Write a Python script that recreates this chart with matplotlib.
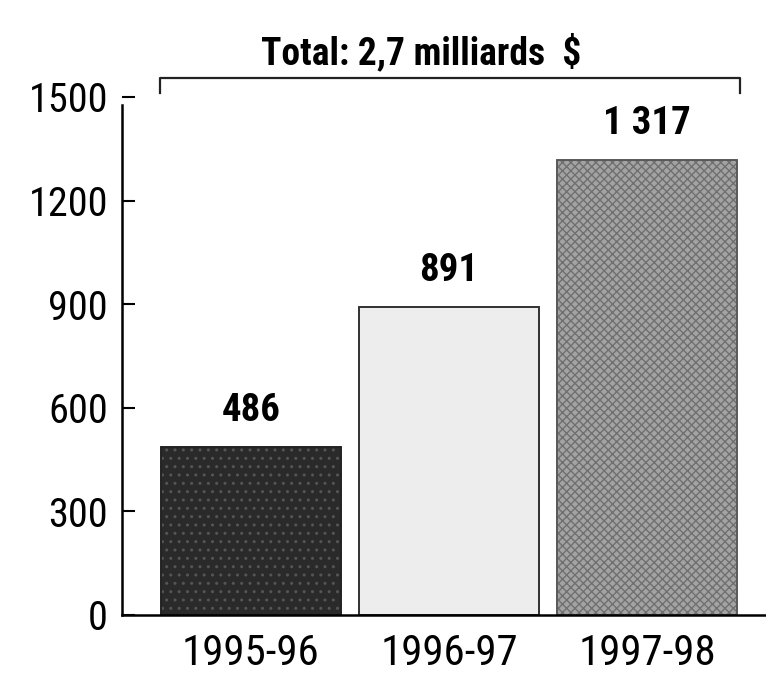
import matplotlib.pyplot as plt

periods = ["1995-96", "1996-97", "1997-98"]
values = [486, 891, 1317]
value_labels = ["486", "891", "1 317"]
yticks = [0, 300, 600, 900, 1200, 1500]
title = "Total: 2,7 milliards  $"

plt.rcParams['font.family'] = ['Roboto Condensed', 'DejaVu Sans']

fig = plt.figure(figsize=(7.66, 6.83), dpi=100)
ax = fig.add_axes([0.159, 0.0996, 0.841, 0.7584])

colors = ["#2a2a2a", "#ededed", "#a3a3a3"]
x = list(range(len(periods)))
bars = ax.bar(x, values, width=0.91, color=colors, edgecolor="#222222", linewidth=1.2)
# grainy look of the printed fills
bars[0].set_hatch("..")
bars[0].set_edgecolor("#555555")
bars[2].set_hatch("xxxx")
bars[2].set_edgecolor("#707070")
ax.bar(x, values, width=0.91, color="none", edgecolor=["#1a1a1a", "#333333", "#555555"], linewidth=1.2)

for b, lab in zip(bars, value_labels):
    ax.annotate(lab, (b.get_x() + b.get_width() / 2, b.get_height()),
                xytext=(0, 13), textcoords="offset points",
                ha="center", va="bottom", fontsize=28, fontweight="bold")

ax.set_xlim(-0.652, 2.601)
ax.set_ylim(0, 1500)
ax.set_yticks(yticks)
ax.set_xticks(x)
ax.set_xticklabels(periods)
ax.tick_params(axis="y", labelsize=29, direction="in", length=9, width=1.5, pad=10)
ax.tick_params(axis="x", labelsize=31, length=0, pad=13)

for s in ["top", "right"]:
    ax.spines[s].set_visible(False)
ax.spines["left"].set_linewidth(1.8)
ax.spines["bottom"].set_linewidth(1.8)
ax.spines["left"].set_bounds(0, 1478)

# bracket over the bars
bx0, bx1 = -0.46, 2.47
ax.plot([bx0, bx0, bx1, bx1], [1512, 1555, 1555, 1512], color="#222222",
        lw=1.6, clip_on=False)
ax.text(0.86, 1596, title, ha="center", va="baseline",
        fontsize=27, fontweight="bold")

fig.savefig("out.png", dpi=100)
